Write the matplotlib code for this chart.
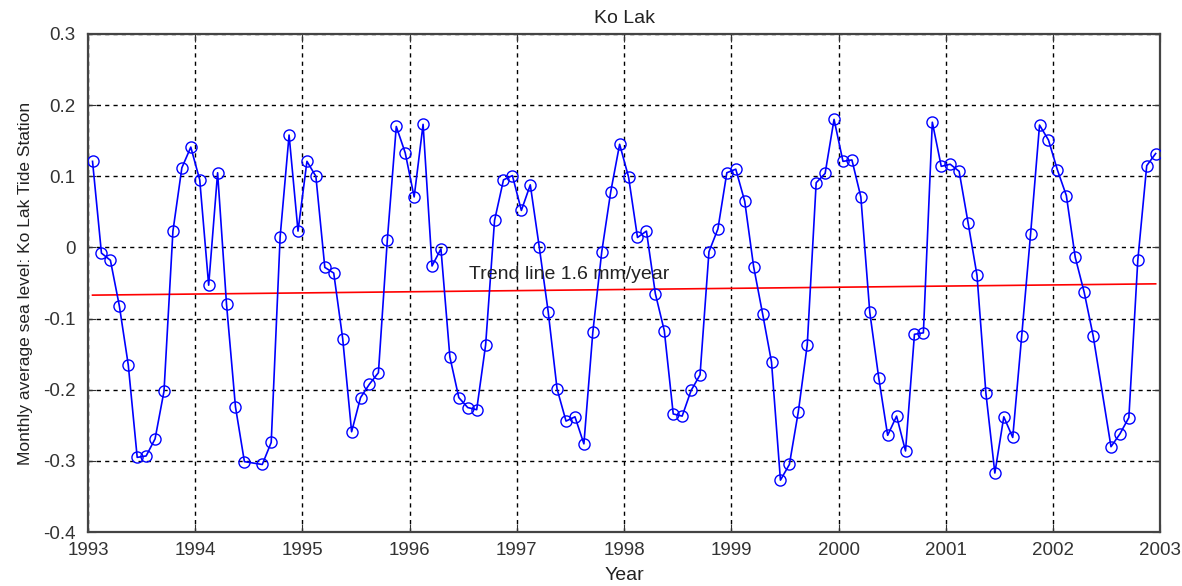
import numpy as np
import matplotlib
matplotlib.use('Agg')
import matplotlib.pyplot as plt

plt.rcParams['font.family'] = ['Liberation Sans', 'DejaVu Sans']

#monthly mean sea level (m), Jan..Dec for each year, nan = no data
start_year = 1993
sea_level = [
    0.121, -0.008, -0.018, -0.082, -0.165, -0.295, -0.293, -0.269, -0.202, 0.023, 0.112, 0.141,  # 1993
    0.095, -0.053, 0.105, -0.080, -0.224, -0.301, np.nan, -0.305, -0.274, 0.015, 0.158, 0.023,  # 1994
    0.121, 0.100, -0.028, -0.036, -0.128, -0.259, -0.211, -0.192, -0.176, 0.011, 0.170, 0.133,  # 1995
    0.071, 0.173, -0.026, -0.002, -0.154, -0.211, -0.225, -0.228, -0.137, 0.038, 0.095, 0.101,  # 1996
    0.052, 0.088, 0.001, -0.090, -0.199, -0.244, -0.238, -0.276, -0.119, -0.006, 0.078, 0.145,  # 1997
    0.099, 0.014, 0.023, -0.065, -0.117, -0.234, -0.237, -0.201, -0.179, -0.006, 0.026, 0.105,  # 1998
    0.110, 0.065, -0.027, -0.093, -0.161, -0.327, -0.305, -0.231, -0.137, 0.091, 0.104, 0.180,  # 1999
    0.121, 0.123, 0.071, -0.091, -0.183, -0.264, -0.237, -0.286, -0.122, -0.120, 0.176, 0.114,  # 2000
    0.117, 0.107, 0.035, -0.039, -0.205, -0.317, -0.238, -0.267, -0.125, 0.019, 0.172, 0.151,  # 2001
    0.109, 0.073, -0.014, -0.063, -0.124, np.nan, -0.280, -0.262, -0.239, -0.018, 0.115, 0.132,  # 2002
]

#trend line
trend_start = -0.067   # m, at first month
trend_rate = 1.6       # mm/year

year_ticks = list(range(1993, 2004))
level_ticks = [-0.4, -0.3, -0.2, -0.1, 0.0, 0.1, 0.2, 0.3]
level_labels = ['-0.4', '-0.3', '-0.2', '-0.1', '0', '0.1', '0.2', '0.3']

sea_level = np.array(sea_level)
t = start_year + (np.arange(len(sea_level)) + 0.5) / 12.0
ok = ~np.isnan(sea_level)
t, sea_level = t[ok], sea_level[ok]

trend = trend_start + trend_rate / 1000.0 * (t - t[0])

fig = plt.figure(figsize=(11.82, 5.86), dpi=100)
ax = fig.add_axes([0.0745, 0.092, 0.907, 0.850])

ax.plot(t, sea_level, color='#0000ff', linewidth=1.2, marker='o', markersize=8,
        markerfacecolor='none', markeredgecolor='#0000ff', markeredgewidth=1.0, zorder=3)
ax.plot([t[0], t[-1]], [trend[0], trend[-1]], color='#ff0000', linewidth=1.2, zorder=2)

ax.text(1996.55, -0.038, 'Trend line 1.6 mm/year', fontsize=14, color='#222222',
        ha='left', va='center')

ax.set_xlim(1993, 2003)
ax.set_ylim(-0.4, 0.3)
ax.set_xticks(year_ticks)
ax.set_yticks(level_ticks)
ax.set_yticklabels(level_labels)

ax.grid(True, color='black', linewidth=1.0, linestyle=(0, (3, 3)))
ax.tick_params(direction='in', length=6, top=True, right=True, labelsize=13.5,
               colors='#333333')
ax.tick_params(axis='x', pad=7)
ax.tick_params(axis='y', pad=9)
for sp in ax.spines.values():
    sp.set_color('#444444')
    sp.set_linewidth(1.6)

ax.set_title('Ko Lak', fontsize=14, color='#222222', pad=8)
ax.set_xlabel('Year', fontsize=14, color='#222222', labelpad=6)
ax.set_ylabel('Monthly average sea level: Ko Lak Tide Station', fontsize=12.5,
              color='#222222', labelpad=7)

plt.savefig('out.png', dpi=100)
